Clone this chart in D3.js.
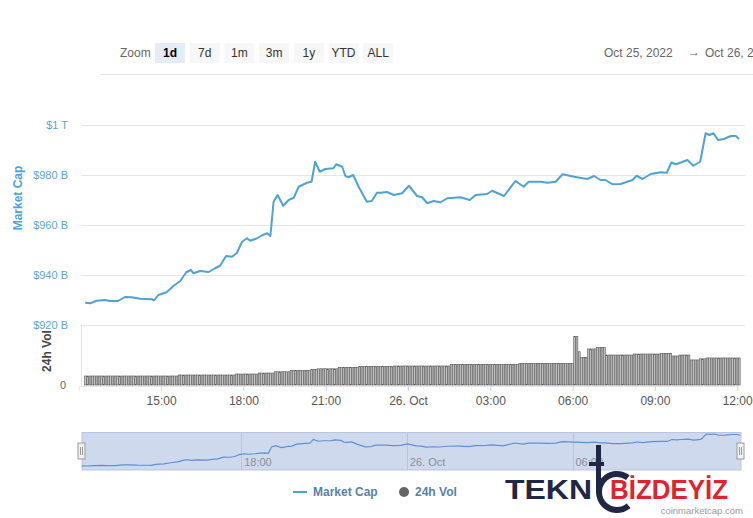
<!DOCTYPE html>
<html>
<head>
<meta charset="utf-8">
<script src="https://cdnjs.cloudflare.com/ajax/libs/d3/7.8.5/d3.min.js"></script>
<style>
  body { margin: 0; background: #fff; }
  svg { display: block; font-family: "Liberation Sans", Arial, sans-serif; }
</style>
</head>
<body>
<div id="chart"></div>
<script>
// market cap (billions USD)
var mcTimes = [
  "10-25 12:14","10-25 12:25","10-25 12:39","10-25 12:57","10-25 13:08","10-25 13:26","10-25 13:41","10-25 13:56",
  "10-25 14:14","10-25 14:40","10-25 14:45","10-25 14:54","10-25 15:12","10-25 15:27","10-25 15:42","10-25 15:55",
  "10-25 16:05","10-25 16:11","10-25 16:25","10-25 16:44","10-25 16:58","10-25 17:09","10-25 17:22","10-25 17:35",
  "10-25 17:46","10-25 17:57","10-25 18:08","10-25 18:15","10-25 18:30","10-25 18:41","10-25 18:52","10-25 18:59",
  "10-25 19:06","10-25 19:15","10-25 19:27","10-25 19:39","10-25 19:50","10-25 20:01","10-25 20:19","10-25 20:29",
  "10-25 20:37","10-25 20:47","10-25 20:59","10-25 21:17","10-25 21:23","10-25 21:36","10-25 21:43","10-25 21:50",
  "10-25 22:00","10-25 22:12","10-25 22:30","10-25 22:41","10-25 22:52","10-25 23:00","10-25 23:14","10-25 23:29",
  "10-25 23:47","10-26 00:02","10-26 00:20","10-26 00:31","10-26 00:42","10-26 00:56","10-26 01:11","10-26 01:26",
  "10-26 01:55","10-26 02:15","10-26 02:28","10-26 02:53","10-26 03:04","10-26 03:30","10-26 03:55","10-26 04:13",
  "10-26 04:24","10-26 04:50","10-26 05:05","10-26 05:23","10-26 05:38","10-26 06:03","10-26 06:32","10-26 06:47",
  "10-26 07:01","10-26 07:12","10-26 07:27","10-26 07:45","10-26 08:11","10-26 08:20","10-26 08:33","10-26 08:51",
  "10-26 09:13","10-26 09:26","10-26 09:36","10-26 09:46","10-26 09:57","10-26 10:11","10-26 10:24","10-26 10:39",
  "10-26 10:51","10-26 10:59","10-26 11:08","10-26 11:18","10-26 11:31","10-26 11:46","10-26 11:57","10-26 12:04"
];
var mcValues = [
  928.9,928.7,929.7,930.0,929.6,929.6,931.2,931.1,
  930.5,930.3,929.9,932.0,933.1,935.6,937.6,941.1,
  942.0,940.7,941.6,941.2,942.7,943.7,947.6,947.3,
  948.9,953.3,954.7,953.7,954.7,955.9,956.7,955.6,
  969.3,972.0,967.7,970.0,970.9,975.3,976.9,977.3,
  985.3,981.3,982.4,982.7,984.3,983.3,979.6,979.1,
  980.0,975.3,969.3,969.6,972.9,972.9,973.2,972.0,
  972.7,975.7,971.6,971.1,968.7,969.6,969.1,970.7,
  971.1,970.0,972.0,972.4,973.7,971.6,977.6,975.3,
  977.3,977.3,976.9,977.3,980.3,979.3,978.4,979.6,
  978.0,978.0,976.3,976.4,978.0,979.7,978.4,980.4,
  981.1,980.9,985.0,984.3,985.0,986.0,983.7,985.3,
  996.7,996.0,996.7,994.0,994.4,995.6,995.6,994.4
];

// 24h volume, one bar per 5 minutes from volStart
var volStart = "10-25 12:15";
var volValues = [
  55,55,55,55,55,55,55,55,55,55,55,55,55,55,55,55,55,55,55,55,
  55,55,55,55,55,55,55,55,55,55,55,55,55,55,55,55,55,55,55,55,55,
  61,61,61,61,61,61,61,61,61,61,61,61,61,61,61,61,61,61,61,61,61,61,61,61,61,
  67,67,67,67,67,67,67,67,67,67,
  73,73,73,73,73,73,73,
  81,81,81,81,81,81,81,
  88,88,88,88,88,88,88,88,88,
  96,96,96,
  99,99,99,99,99,99,99,99,99,
  106,106,106,106,106,106,106,106,106,
  112,112,112,112,112,112,112,112,112,112,112,112,112,112,112,
  116,116,116,116,116,116,116,116,116,116,116,116,116,116,116,116,116,116,116,116,116,116,116,116,116,
  124,124,124,124,124,124,124,124,124,124,124,124,124,124,124,
  124,124,124,124,124,124,124,124,124,124,124,124,124,124,124,
  130,130,130,130,130,130,130,130,130,130,130,130,
  130,130,130,130,130,130,130,130,130,130,130,130,
  295,295,
  203,
  169,169,169,
  220,220,220,220,
  228,228,228,228,
  183,183,183,183,183,183,183,183,183,183,183,183,
  189,189,189,189,189,189,189,189,189,189,189,189,
  193,193,193,193,193,
  177,177,177,
  183,183,183,183,183,
  153,153,153,153,
  160,160,160,
  165,165,165,165,165,165,165,165,165,165,165,165,165,165,165
];

var yTicks = [920, 940, 960, 980, 1000];
var yTickLabels = ["$920 B", "$940 B", "$960 B", "$980 B", "$1 T"];
var xTicks = ["10-25 15:00","10-25 18:00","10-25 21:00","10-26 00:00","10-26 03:00","10-26 06:00","10-26 09:00","10-26 12:00"];
var xTickLabels = ["15:00","18:00","21:00","26. Oct","03:00","06:00","09:00","12:00"];
var navTicks = ["10-25 18:00","10-26 00:00","10-26 06:00"];
var navTickLabels = ["18:00","26. Oct","06:00"];
var zoomButtons = ["1d","7d","1m","3m","1y","YTD","ALL"];

function parseT(s) {
  var p = s.split(" "), md = p[0].split("-"), hm = p[1].split(":");
  return new Date(2022, +md[0] - 1, +md[1], +hm[0], +hm[1]);
}

var mcData = mcTimes.map(function(t, i) { return {t: parseT(t), v: mcValues[i]}; });
var t0 = parseT(volStart);
var volData = volValues.map(function(v, i) { return {t: new Date(t0.getTime() + i * 5 * 60000), v: v}; });

var width = 753, height = 518;
var svg = d3.select("#chart").append("svg")
  .attr("width", width).attr("height", height);

// ---- toolbar
svg.append("text").attr("x", 120).attr("y", 57).attr("font-size", 12).attr("fill", "#666").text("Zoom");
var btn = svg.append("g").selectAll("g").data(zoomButtons).enter().append("g")
  .attr("transform", function(d, i) { return "translate(" + (155 + i * 34.7) + ",43)"; });
btn.append("rect").attr("width", 30).attr("height", 20)
  .attr("fill", function(d, i) { return i == 0 ? "#e6ebf5" : "#f7f7f7"; });
btn.append("text").attr("x", 15).attr("y", 14).attr("text-anchor", "middle").attr("font-size", 12)
  .attr("font-weight", function(d, i) { return i == 0 ? "bold" : "normal"; })
  .attr("fill", function(d, i) { return i == 0 ? "#000" : "#333"; })
  .text(function(d) { return d; });
// date range (runs off the right edge, as in the original)
svg.append("text").attr("x", 604).attr("y", 57).attr("font-size", 12).attr("fill", "#666").text("Oct 25, 2022");
svg.append("text").attr("x", 694).attr("y", 56).attr("text-anchor", "middle").attr("font-size", 12).attr("fill", "#666").text("\u2192");
svg.append("text").attr("x", 705).attr("y", 57).attr("font-size", 12).attr("fill", "#666").text("Oct 26, 2");
svg.append("line").attr("x1", 100).attr("x2", 753).attr("y1", 74.5).attr("y2", 74.5)
  .attr("stroke", "#e6e6e6");

// ---- scales
var x = d3.scaleTime()
  .domain([parseT("10-25 12:00"), parseT("10-26 12:00")])
  .range([78.8, 737.2]);
var y = d3.scaleLinear().domain([920, 1000]).range([325, 125]);
var yVol = d3.scaleLinear().domain([0, 360]).range([385, 326]);

// grid + y labels
svg.append("g").selectAll("line").data(yTicks).enter().append("line")
  .attr("x1", 81).attr("x2", 745)
  .attr("y1", function(d) { return Math.round(y(d)) + 0.5; })
  .attr("y2", function(d) { return Math.round(y(d)) + 0.5; })
  .attr("stroke", "#e6e6e6");
svg.append("g").selectAll("text").data(yTicks).enter().append("text")
  .attr("x", 68).attr("y", function(d) { return y(d) + 4; })
  .attr("text-anchor", "end").attr("font-size", 11).attr("fill", "#5da3d0")
  .text(function(d, i) { return yTickLabels[i]; });

svg.append("text").attr("transform", "translate(22,198) rotate(-90)")
  .attr("text-anchor", "middle").attr("font-size", 12).attr("font-weight", "bold")
  .attr("fill", "#4aa3df").text("Market Cap");
svg.append("text").attr("transform", "translate(51,351) rotate(-90)")
  .attr("text-anchor", "middle").attr("font-size", 12).attr("font-weight", "bold")
  .attr("fill", "#444").text("24h Vol");

// volume pane
svg.append("line").attr("x1", 81.5).attr("x2", 81.5).attr("y1", 325).attr("y2", 386)
  .attr("stroke", "#e0e0e0");
svg.append("text").attr("x", 66).attr("y", 389).attr("text-anchor", "end")
  .attr("font-size", 11).attr("fill", "#666").text("0");
var step = x(parseT("10-25 12:05")) - x(parseT("10-25 12:00"));
svg.append("g").selectAll("rect").data(volData).enter().append("rect")
  .attr("x", function(d) { return x(d.t) - step / 2; })
  .attr("width", step * 0.8)
  .attr("y", function(d) { return yVol(d.v); })
  .attr("height", function(d) { return yVol(0) - yVol(d.v); })
  .attr("fill", "#c6c6c6").attr("stroke", "#555").attr("stroke-width", 0.6);

// x axis
var xAxis = svg.append("g").attr("transform", "translate(0,386)")
  .call(d3.axisBottom(x).tickValues(xTicks.map(parseT)).tickSize(5)
    .tickFormat(function(d, i) { return xTickLabels[i]; }));
xAxis.select(".domain").attr("stroke", "#e6e6e6");
xAxis.selectAll(".tick line").attr("stroke", "#ccd6eb");
xAxis.selectAll(".tick text").attr("font-size", 12).attr("fill", "#555")
  .attr("font-family", "Liberation Sans, Arial, sans-serif").attr("dy", "0.9em");

// main line
svg.append("path").datum(mcData)
  .attr("fill", "none").attr("stroke", "#4fa3d1").attr("stroke-width", 2)
  .attr("stroke-linejoin", "round")
  .attr("d", d3.line().x(function(d) { return x(d.t); }).y(function(d) { return y(d.v); }));

// ---- navigator
var xNav = d3.scaleTime().domain(d3.extent(mcData, function(d) { return d.t; })).range([82, 740]);
var yNav = d3.scaleLinear().domain(d3.extent(mcData, function(d) { return d.v; })).range([466, 434]);
svg.append("rect").attr("x", 82).attr("y", 432.5).attr("width", 659).attr("height", 37.5)
  .attr("fill", "#cfd9ee").attr("stroke", "#b9c6e2");
svg.append("g").selectAll("line").data(navTicks).enter().append("line")
  .attr("x1", function(d) { return Math.round(xNav(parseT(d))) + 0.5; })
  .attr("x2", function(d) { return Math.round(xNav(parseT(d))) + 0.5; })
  .attr("y1", 433).attr("y2", 470).attr("stroke", "#b8c4dc");
svg.append("g").selectAll("text").data(navTicks).enter().append("text")
  .attr("x", function(d) { return xNav(parseT(d)) + 3; }).attr("y", 466)
  .attr("font-size", 11).attr("fill", "#8a8f99")
  .text(function(d, i) { return navTickLabels[i]; });
svg.append("path").datum(mcData)
  .attr("fill", "none").attr("stroke", "#5f8fd3").attr("stroke-width", 1.2)
  .attr("d", d3.line().x(function(d) { return xNav(d.t); }).y(function(d) { return yNav(d.v); }));
[82, 741].forEach(function(hx) {
  var h = svg.append("g").attr("transform", "translate(" + (hx - 4) + ",443)");
  h.append("rect").attr("width", 7).attr("height", 16).attr("fill", "#f2f2f2").attr("stroke", "#999");
  h.append("line").attr("x1", 2.5).attr("x2", 2.5).attr("y1", 4).attr("y2", 12).attr("stroke", "#999");
  h.append("line").attr("x1", 4.5).attr("x2", 4.5).attr("y1", 4).attr("y2", 12).attr("stroke", "#999");
});

// ---- legend
svg.append("line").attr("x1", 293).attr("x2", 307).attr("y1", 492).attr("y2", 492)
  .attr("stroke", "#4fa3d1").attr("stroke-width", 2);
svg.append("text").attr("x", 313).attr("y", 496).attr("font-size", 12).attr("font-weight", "bold")
  .attr("fill", "#5a7fa8").text("Market Cap");
svg.append("circle").attr("cx", 404).attr("cy", 492).attr("r", 5).attr("fill", "#666");
svg.append("text").attr("x", 415).attr("y", 496).attr("font-size", 12).attr("font-weight", "bold")
  .attr("fill", "#5a7fa8").text("24h Vol");

// ---- watermark
var wm = svg.append("g");
wm.append("text").attr("x", 505).attr("y", 499).attr("font-weight", "bold").attr("font-size", 28)
  .attr("fill", "#1f2744").attr("textLength", 87).attr("lengthAdjust", "spacingAndGlyphs").text("TEKN");
wm.append("path").attr("d", d3.arc()({innerRadius: 15, outerRadius: 21, startAngle: 2.44, endAngle: 6.93}))
  .attr("transform", "translate(617,492)").attr("fill", "#1f2744");
wm.append("rect").attr("x", 596).attr("y", 445).attr("width", 5).attr("height", 47).attr("fill", "#1f2744");
wm.append("rect").attr("x", 589).attr("y", 462).attr("width", 15).attr("height", 4).attr("fill", "#1f2744");
wm.append("text").attr("x", 610).attr("y", 499).attr("font-weight", "bold").attr("font-size", 28)
  .attr("fill", "#e0242f").attr("textLength", 118).attr("lengthAdjust", "spacingAndGlyphs").text("BİZDEYİZ");
wm.append("text").attr("x", 743).attr("y", 514).attr("text-anchor", "end")
  .attr("font-size", 9.5).attr("fill", "#999").text("coinmarketcap.com");
</script>
</body>
</html>
